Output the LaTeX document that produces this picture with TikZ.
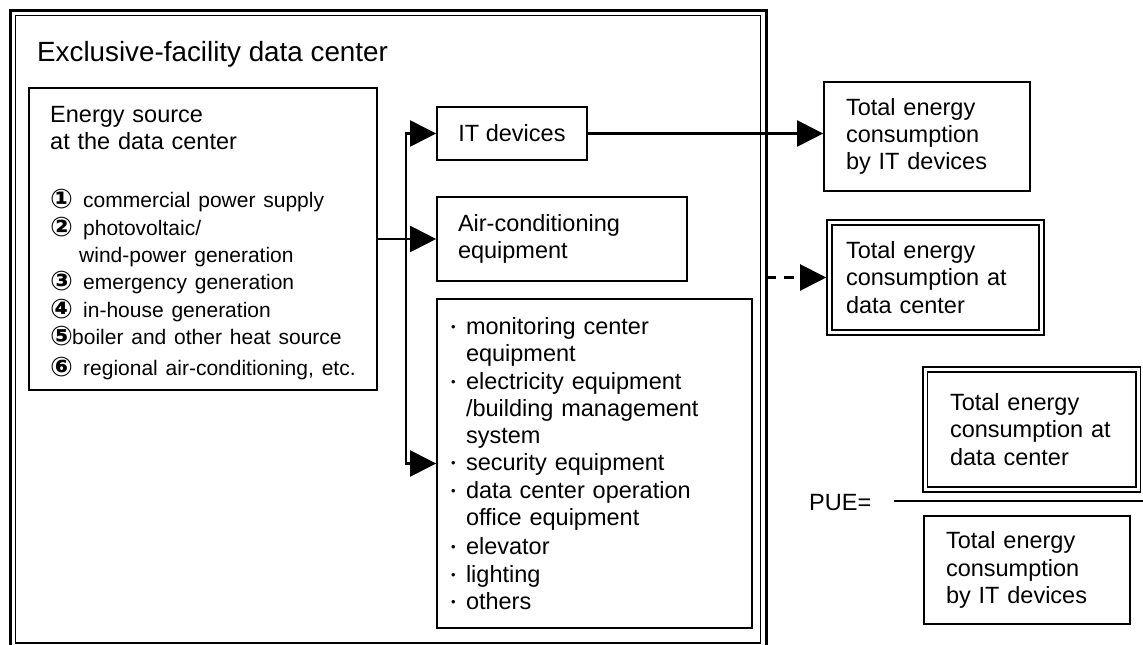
\documentclass[tikz,border=0pt]{standalone}
\usepackage{fontspec}
\setmainfont{Liberation Sans}
\newfontfamily\circfont{DejaVu Sans}
\usetikzlibrary{arrows.meta}

% circled item number in a fixed-width slot
\newcommand\cnum[2]{\makebox[#2][l]{\raisebox{-1pt}{\circfont\bfseries\fontsize{27}{27.3}\selectfont #1}}}
% list bullet in a fixed-width slot
\newcommand\bul{\makebox[15pt][l]{\raisebox{3pt}{\fontsize{13}{13}\selectfont •}}}
\newcommand\ind{\hspace*{15pt}}

\begin{document}
\begin{tikzpicture}[x=1pt,y=-1pt,
  maintext/.style={font=\fontsize{23.5}{27.3}\selectfont},
  box/.style={draw, line width=1.7pt, inner ysep=0pt, align=left, maintext},
  dbox/.style={draw, line width=1.8pt, double, double distance=3pt,
    inner ysep=0pt, outer sep=3.3pt, align=left, maintext},
  conn/.style={line width=2.2pt, -{Triangle[length=26pt,width=26pt]}},
  rule/.style={line width=2pt}]
\useasboundingbox (0,0) rectangle (1143,645);

% enclosing facility frame (thick outer, thin inner line)
\node[draw, line width=3pt, minimum width=756pt, minimum height=640pt,
  inner sep=0pt, outer sep=0pt] (frame) at (388,330) {};
\node[draw, line width=1.2pt, minimum width=745pt, minimum height=627.5pt,
  inner sep=0pt] (frameinner) at (388,329.25) {};
\node[anchor=base west, inner sep=0pt, font=\fontsize{27.8}{32}\selectfont]
  (title) at (37,61) {Exclusive-facility data center};

% energy sources
\node[draw, line width=1.7pt, minimum width=348pt, minimum height=302pt]
  (energy) at (203,239) {};
\node[anchor=north west, inner sep=0pt, text width=306pt, align=left, maintext]
  (energytext) at (50,106)
  {Energy source\\ at the data center\\[31pt]
   \fontsize{21}{27.3}\selectfont
   \cnum{①}{33pt}commercial power supply\\
   \cnum{②}{33pt}photovoltaic/\\
   \hspace*{29pt}wind-power generation\\
   \cnum{③}{33pt}emergency generation\\
   \cnum{④}{33pt}in-house generation\\
   \cnum{⑤}{22pt}boiler and other heat source\\[4pt]
   \cnum{⑥}{33pt}regional air-conditioning, etc.};

% consumers inside the facility
\node[box, minimum width=150pt, minimum height=53pt, inner xsep=0pt]
  (itdev) at (512,133.5) {IT devices};
\node[box, minimum width=250pt, minimum height=84pt, inner xsep=21pt,
  text width=208pt] (air) at (562,239) {Air-conditioning\\ equipment};
\node[box, minimum width=315pt, minimum height=329pt, inner xsep=14pt,
  text width=287pt] (others) at (594.5,463.5)
  {\bul monitoring center\\ \ind equipment\\
   \bul electricity equipment\\ \ind /building management\\ \ind system\\
   \bul security equipment\\
   \bul data center operation\\ \ind office equipment\\[2pt]
   \bul elevator\\ \bul lighting\\ \bul others};

% totals
\node[box, minimum width=206pt, minimum height=109pt, inner xsep=22pt,
  text width=162pt] (totit) at (927,136.5)
  {Total energy\\ consumption\\ by IT devices};
\node[dbox, minimum width=212pt, minimum height=110pt, inner xsep=16.5pt,
  text width=179pt] (totdc) at (935.5,277.5)
  {Total energy\\ consumption at\\ data center};

% PUE formula
\node[anchor=west, inner sep=0pt, maintext] (pue) at (809,503) {PUE=};
\node[dbox, minimum width=213pt, minimum height=120pt, inner xsep=25pt,
  text width=163pt] (numer) at (1031.5,429.5)
  {Total energy\\ consumption at\\ data center};
\node[box, minimum width=206pt, minimum height=108pt, inner xsep=22pt,
  text width=162pt] (denom) at (1027,570)
  {Total energy\\ consumption\\ by IT devices};
\draw[rule] (894,501) -- (1143,501);

% distribution connectors
\coordinate (jn) at (406,239);
\draw[conn] (energy.east) -- (air.west);
\draw[conn] (jn) |- (itdev.west);
\draw[conn] (jn) |- (others.west);
\draw[conn] (itdev.east) -- (itdev.east -| totit.west);
\draw[conn, dash pattern=on 10pt off 8pt] (frame.east |- totdc.west) -- (totdc.west);
\end{tikzpicture}
\end{document}
